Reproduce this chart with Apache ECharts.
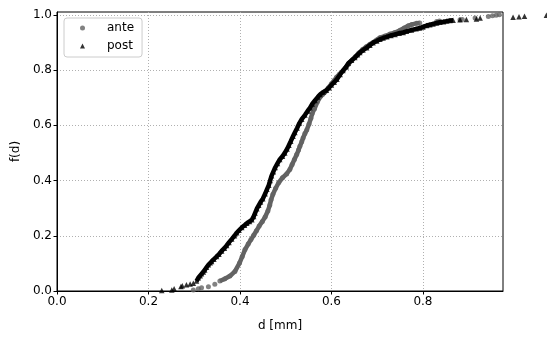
<!DOCTYPE html>
<html><head><meta charset="utf-8">
<script src="https://cdn.jsdelivr.net/npm/echarts@6/dist/echarts.min.js"></script>
<style>html,body{margin:0;padding:0;background:#fff}#c{width:547px;height:337px}</style>
</head><body><div id="c"></div>
<script>
// ante (gray dots): d [mm] and f(d)
const anteD = [0.298,0.309,0.316,0.331,0.345,0.356,0.367,0.378,0.389,0.399,0.405,0.411,0.418,0.424,0.430,0.436,0.442,0.449,0.455,0.461,0.465,0.468,0.472,0.478,0.485,0.493,0.502,0.509,0.514,0.519,0.524,0.528,0.531,0.535,0.538,0.542,0.546,0.551,0.555,0.558,0.563,0.569,0.575,0.581,0.586,0.593,0.600,0.606,0.611,0.618,0.626,0.632,0.637,0.645,0.652,0.660,0.668,0.676,0.684,0.691,0.699,0.706,0.717,0.728,0.739,0.750,0.759,0.768,0.776,0.786,0.793,0.830,0.836,0.881,0.886,0.914,0.943,0.952,0.960,0.967];
const anteF = [0.004,0.008,0.012,0.015,0.024,0.036,0.044,0.054,0.071,0.101,0.125,0.150,0.170,0.186,0.202,0.218,0.235,0.252,0.268,0.290,0.310,0.330,0.350,0.372,0.393,0.410,0.424,0.440,0.458,0.476,0.494,0.510,0.524,0.540,0.554,0.570,0.583,0.605,0.625,0.643,0.660,0.684,0.702,0.712,0.720,0.735,0.750,0.762,0.774,0.786,0.798,0.810,0.821,0.836,0.848,0.862,0.874,0.884,0.893,0.900,0.909,0.917,0.923,0.930,0.936,0.944,0.952,0.960,0.965,0.969,0.970,0.976,0.977,0.982,0.983,0.988,0.994,0.996,0.998,1.000];
// post (black triangles)
const postD = [0.229,0.251,0.256,0.271,0.274,0.283,0.291,0.298,0.305,0.309,0.313,0.316,0.320,0.323,0.327,0.331,0.335,0.338,0.343,0.349,0.354,0.360,0.366,0.371,0.376,0.382,0.388,0.393,0.398,0.404,0.410,0.415,0.421,0.426,0.430,0.433,0.437,0.441,0.445,0.450,0.455,0.459,0.463,0.466,0.469,0.473,0.477,0.482,0.487,0.493,0.498,0.503,0.507,0.511,0.516,0.520,0.525,0.530,0.535,0.542,0.548,0.553,0.558,0.564,0.570,0.575,0.582,0.589,0.595,0.600,0.606,0.612,0.619,0.625,0.632,0.637,0.644,0.651,0.657,0.662,0.669,0.677,0.684,0.691,0.699,0.706,0.713,0.721,0.730,0.739,0.748,0.757,0.764,0.775,0.785,0.793,0.800,0.808,0.815,0.822,0.830,0.837,0.845,0.852,0.859,0.866,0.881,0.895,0.917,0.925,0.997,1.010,1.022,1.070];
const postF = [0.002,0.004,0.008,0.016,0.019,0.023,0.025,0.028,0.036,0.048,0.055,0.062,0.069,0.076,0.086,0.095,0.102,0.107,0.115,0.125,0.133,0.145,0.155,0.165,0.176,0.188,0.200,0.211,0.220,0.230,0.238,0.245,0.252,0.258,0.270,0.282,0.298,0.310,0.322,0.334,0.352,0.368,0.383,0.400,0.417,0.432,0.447,0.462,0.476,0.488,0.500,0.514,0.528,0.542,0.560,0.574,0.590,0.608,0.622,0.637,0.652,0.663,0.677,0.690,0.702,0.711,0.720,0.727,0.736,0.746,0.756,0.767,0.784,0.798,0.812,0.825,0.835,0.845,0.855,0.863,0.872,0.881,0.890,0.899,0.905,0.911,0.916,0.920,0.925,0.929,0.933,0.936,0.940,0.945,0.949,0.952,0.956,0.961,0.964,0.967,0.970,0.973,0.975,0.977,0.979,0.980,0.982,0.983,0.985,0.988,0.991,0.993,0.995,0.998];
const xTicks = [0, 0.2, 0.4, 0.6, 0.8];
const yTicks = [0, 0.2, 0.4, 0.6, 0.8, 1.0];
const seriesNames = ['ante', 'post'];
const xLabel = 'd [mm]';
const yLabel = 'f(d)';

const FONT = 'DejaVu Sans';
const ANTE_C = '#636363', POST_C = '#000000';
const pairs = (d, f) => d.map((v, i) => [v, f[i]]);
const dense = (d, f, lo, hi) => pairs(d, f).filter(p => p[0] >= lo && p[0] <= hi);

const chart = echarts.init(document.getElementById('c'), null, {renderer: 'canvas'});
const axisCommon = {
  axisLine: {show: true, lineStyle: {color: '#000', width: 1}},
  axisTick: {show: true, length: 3.5, lineStyle: {color: '#000'}},
  splitLine: {show: true, lineStyle: {color: '#b0b0b0', type: [1, 2], width: 1}},
  nameTextStyle: {fontFamily: FONT, fontSize: 12, color: '#000'}
};
chart.setOption({
  animation: false,
  backgroundColor: '#fff',
  grid: {left: 57, right: 44, top: 12, bottom: 42, show: true, borderColor: '#000', borderWidth: 1, containLabel: false},
  xAxis: Object.assign({}, axisCommon, {
    type: 'value', min: 0, max: 0.975, interval: 0.2,
    name: xLabel, nameLocation: 'middle', nameGap: 29,
    axisTick: Object.assign({}, axisCommon.axisTick, {customValues: xTicks}),
    axisLabel: {customValues: xTicks, formatter: v => v.toFixed(1), fontFamily: FONT, fontSize: 12, color: '#000', margin: 5}
  }),
  yAxis: Object.assign({}, axisCommon, {
    type: 'value', min: 0, max: 1.01, interval: 0.2,
    name: yLabel, nameLocation: 'middle', nameGap: 35,
    axisTick: Object.assign({}, axisCommon.axisTick, {customValues: yTicks}),
    axisLabel: {customValues: yTicks, formatter: v => v.toFixed(1), fontFamily: FONT, fontSize: 12, color: '#000', margin: 5}
  }),
  legend: {
    data: [{name: seriesNames[0], icon: 'circle'}, {name: seriesNames[1], icon: 'triangle'}],
    orient: 'vertical', left: 64, top: 18,
    padding: [4, 8, 5, 16], itemWidth: 5, itemHeight: 5, itemGap: 6,
    borderColor: '#cccccc', borderWidth: 1, borderRadius: 3, backgroundColor: 'rgba(255,255,255,0.8)',
    textStyle: {fontFamily: FONT, fontSize: 12, color: '#000', padding: [0, 0, 0, 17]}
  },
  series: [
    {name: 'ante-line', type: 'line', data: dense(anteD, anteF, 0.35, 0.80), showSymbol: false, symbol: 'none',
     lineStyle: {color: ANTE_C, width: 4.5}, z: 2, silent: true},
    {name: 'post-line', type: 'line', data: dense(postD, postF, 0.30, 0.87), showSymbol: false, symbol: 'none',
     lineStyle: {color: POST_C, width: 4.5}, z: 3, silent: true},
    {name: seriesNames[0], type: 'scatter', data: pairs(anteD, anteF), symbol: 'circle', symbolSize: 5,
     itemStyle: {color: ANTE_C}, z: 2},
    {name: seriesNames[1], type: 'scatter', data: pairs(postD, postF), symbol: 'triangle', symbolSize: 5.5,
     itemStyle: {color: POST_C}, z: 3, clip: false}
  ]
});
</script></body></html>
